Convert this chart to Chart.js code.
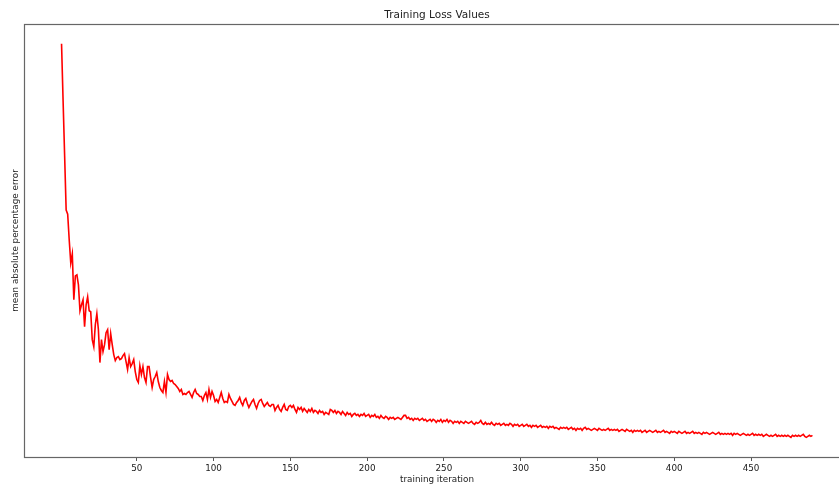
<!DOCTYPE html>
<html>
<head>
<meta charset="utf-8">
<script src="https://cdn.jsdelivr.net/npm/chart.js@4/dist/chart.umd.min.js"></script>
<style>
  html, body { margin: 0; padding: 0; background: #fff; overflow: hidden; width: 839px; height: 485px; }
  #wrap { width: 862px; height: 485px; }
</style>
</head>
<body>
<div id="wrap"><canvas id="c" width="862" height="485"></canvas></div>
<script>
const chartTitle = "Training Loss Values";
const xAxisLabel = "training iteration";
const yAxisLabel = "mean absolute percentage error";
const xTickValues = [50, 100, 150, 200, 250, 300, 350, 400, 450];

// loss per training iteration (1..490)
const loss = [
  41.4, 35.7, 30.2, 24.7, 24.3, 21.7, 19.4, 20.3, 15.7, 18.1,
  18.2, 17.2, 14.6, 15.2, 15.7, 13.0, 15.2, 16.0, 14.6, 14.5,
  11.7, 11.0, 13.2, 14.3, 12.7, 9.4, 11.7, 10.5, 11.2, 12.4,
  12.7, 10.7, 12.3, 11.2, 10.2, 9.6, 9.9, 10.0, 9.7, 9.8,
  10.1, 10.3, 9.5, 8.7, 9.9, 9.0, 9.3, 9.7, 8.5, 7.7,
  7.4, 9.1, 8.2, 9.0, 7.9, 7.4, 9.0, 9.0, 7.9, 6.9,
  7.7, 8.0, 8.4, 7.5, 6.9, 6.6, 6.4, 7.5, 6.4, 8.2,
  7.7, 7.5, 7.6, 7.3, 7.2, 7.0, 6.8, 6.5, 6.7, 6.2,
  6.3, 6.2, 6.4, 6.5, 6.2, 5.9, 6.4, 6.7, 6.3, 6.2,
  6.0, 6.0, 5.6, 6.1, 6.4, 5.7, 6.7, 5.9, 6.5, 6.1,
  5.5, 5.7, 5.4, 5.9, 6.4, 5.8, 5.4, 5.5, 5.4, 6.2,
  5.8, 5.5, 5.2, 5.1, 5.4, 5.6, 5.9, 5.4, 5.1, 5.6,
  5.8, 5.3, 4.9, 5.2, 5.5, 5.7, 5.2, 4.8, 5.3, 5.6,
  5.7, 5.3, 5.0, 5.2, 5.4, 5.1, 5.0, 5.2, 5.2, 4.6,
  4.9, 5.1, 4.7, 4.5, 4.9, 5.2, 4.7, 4.6, 5.0, 5.1,
  4.9, 5.1, 4.7, 4.4, 4.9, 4.7, 4.9, 4.5, 4.8, 4.6,
  4.4, 4.7, 4.5, 4.8, 4.4, 4.6, 4.5, 4.3, 4.6, 4.4,
  4.5, 4.2, 4.4, 4.3, 4.2, 4.7, 4.6, 4.4, 4.6, 4.3,
  4.5, 4.4, 4.2, 4.5, 4.3, 4.1, 4.4, 4.2, 4.3, 4.0,
  4.2, 4.3, 4.1, 4.2, 4.0, 4.2, 4.1, 4.3, 4.0, 4.1,
  4.2, 3.9, 4.1, 4.0, 4.2, 3.9, 4.0, 3.8, 4.1, 3.9,
  3.8, 4.0, 3.9, 3.7, 3.9, 3.8, 3.9, 3.7, 3.8, 3.9,
  3.8, 3.7, 3.9, 4.1, 4.1, 3.8, 3.9, 3.7, 3.8, 3.6,
  3.8, 3.7, 3.8, 3.6, 3.7, 3.8, 3.6, 3.7, 3.5, 3.6,
  3.7, 3.5, 3.7, 3.6, 3.4, 3.6, 3.5, 3.7, 3.4, 3.6,
  3.5, 3.7, 3.4, 3.6, 3.5, 3.3, 3.5, 3.4, 3.5, 3.3,
  3.5, 3.4, 3.3, 3.5, 3.4, 3.3, 3.4, 3.5, 3.3, 3.2,
  3.4, 3.3, 3.4, 3.6, 3.3, 3.2, 3.4, 3.2, 3.3, 3.2,
  3.4, 3.2, 3.1, 3.3, 3.2, 3.3, 3.1, 3.2, 3.3, 3.1,
  3.2, 3.1, 3.3, 3.2, 3.0, 3.2, 3.1, 3.2, 3.0, 3.1,
  3.2, 3.0, 3.1, 3.2, 3.0, 3.1, 2.9, 3.1, 3.0, 3.1,
  2.9, 3.0, 3.1, 2.9, 3.0, 2.9, 3.0, 2.8, 3.0, 2.9,
  3.0, 2.8, 2.9, 2.8, 2.7, 2.9, 2.8, 2.9, 2.8, 2.9,
  2.7, 2.8, 2.9, 2.7, 2.8, 2.6, 2.8, 2.7, 2.8, 2.6,
  2.8, 2.9, 2.7, 2.8, 2.7, 2.6, 2.7, 2.8, 2.7, 2.6,
  2.8, 2.7, 2.6, 2.7, 2.6, 2.7, 2.8, 2.6, 2.7, 2.6,
  2.7, 2.6, 2.7, 2.5, 2.6, 2.7, 2.6, 2.5, 2.7, 2.6,
  2.5, 2.6, 2.4, 2.6, 2.5, 2.6, 2.5, 2.6, 2.4, 2.5,
  2.6, 2.4, 2.5, 2.6, 2.5, 2.4, 2.5, 2.6, 2.4, 2.5,
  2.4, 2.5, 2.6, 2.4, 2.5, 2.4, 2.3, 2.5, 2.4, 2.5,
  2.4, 2.3, 2.5, 2.4, 2.3, 2.4, 2.5, 2.3, 2.4, 2.3,
  2.4, 2.5, 2.3, 2.4, 2.3, 2.4, 2.3, 2.2, 2.4, 2.3,
  2.4, 2.3, 2.2, 2.3, 2.4, 2.3, 2.2, 2.3, 2.4, 2.2,
  2.3, 2.2, 2.3, 2.2, 2.3, 2.2, 2.3, 2.1, 2.3, 2.2,
  2.3, 2.2, 2.1, 2.2, 2.3, 2.2, 2.1, 2.2, 2.1, 2.2,
  2.3, 2.1, 2.2, 2.1, 2.2, 2.1, 2.2, 2.0, 2.1, 2.2,
  2.1, 2.0, 2.1, 2.0, 2.1, 2.2, 2.0, 2.1, 2.0, 2.1,
  2.0, 2.1, 2.0, 2.1, 2.0, 1.9, 2.1, 2.0, 2.1, 2.0,
  2.1, 2.0, 2.1, 2.2, 2.0, 1.9, 2.0, 2.1, 2.0, 2.1
];
const iterations = loss.map((_, i) => i + 1);

// matplotlib-like 5% auto margins
const xFirst = iterations[0], xLast = iterations[iterations.length - 1];
const xPad = (xLast - xFirst) * 0.05;
const yLo = Math.min(...loss), yHi = Math.max(...loss);
const yPad = (yHi - yLo) * 0.05;

const FONT = "'DejaVu Sans', sans-serif";

const framePlugin = {
  id: 'frame',
  afterDraw(chart) {
    const { ctx, chartArea: a } = chart;
    ctx.save();
    ctx.strokeStyle = '#666';
    ctx.lineWidth = 1.2;
    ctx.strokeRect(Math.round(a.left) + 0.5, Math.round(a.top) + 0.5,
                   Math.round(a.right - a.left), Math.round(a.bottom - a.top));
    ctx.fillStyle = '#222';
    ctx.textAlign = 'center';
    ctx.textBaseline = 'middle';
    const cx = (a.left + a.right) / 2;
    ctx.font = "10.5px " + FONT;
    ctx.fillText(chartTitle, cx, 15);
    ctx.font = "8.8px " + FONT;
    ctx.fillText(xAxisLabel, cx, 480);
    ctx.translate(16, (a.top + a.bottom) / 2);
    ctx.rotate(-Math.PI / 2);
    ctx.fillText(yAxisLabel, 0, 0);
    ctx.restore();
  }
};

new Chart(document.getElementById('c'), {
  type: 'line',
  data: {
    datasets: [{
      data: iterations.map((it, i) => ({ x: it, y: loss[i] })),
      borderColor: '#ff0000',
      borderWidth: 1.6,
      pointRadius: 0,
      tension: 0,
      fill: false
    }]
  },
  options: {
    responsive: false,
    animation: false,
    devicePixelRatio: 1,
    layout: { padding: { left: 24, top: 24, right: 12, bottom: 0 } },
    plugins: { legend: { display: false }, title: { display: false }, tooltip: { enabled: false } },
    scales: {
      x: {
        type: 'linear',
        min: xFirst - xPad,
        max: xLast + xPad,
        afterBuildTicks(scale) { scale.ticks = xTickValues.map(v => ({ value: v })); },
        afterFit(scale) { scale.height = 28; },
        border: { display: false },
        grid: { drawOnChartArea: false, drawTicks: true, tickLength: 4, color: '#555', lineWidth: 1 },
        ticks: { autoSkip: false, maxRotation: 0, padding: 2, color: '#222', font: { family: FONT, size: 8.8 } }
      },
      y: {
        display: false,
        min: yLo - yPad,
        max: yHi + yPad
      }
    }
  },
  plugins: [framePlugin]
});
</script>
</body>
</html>
